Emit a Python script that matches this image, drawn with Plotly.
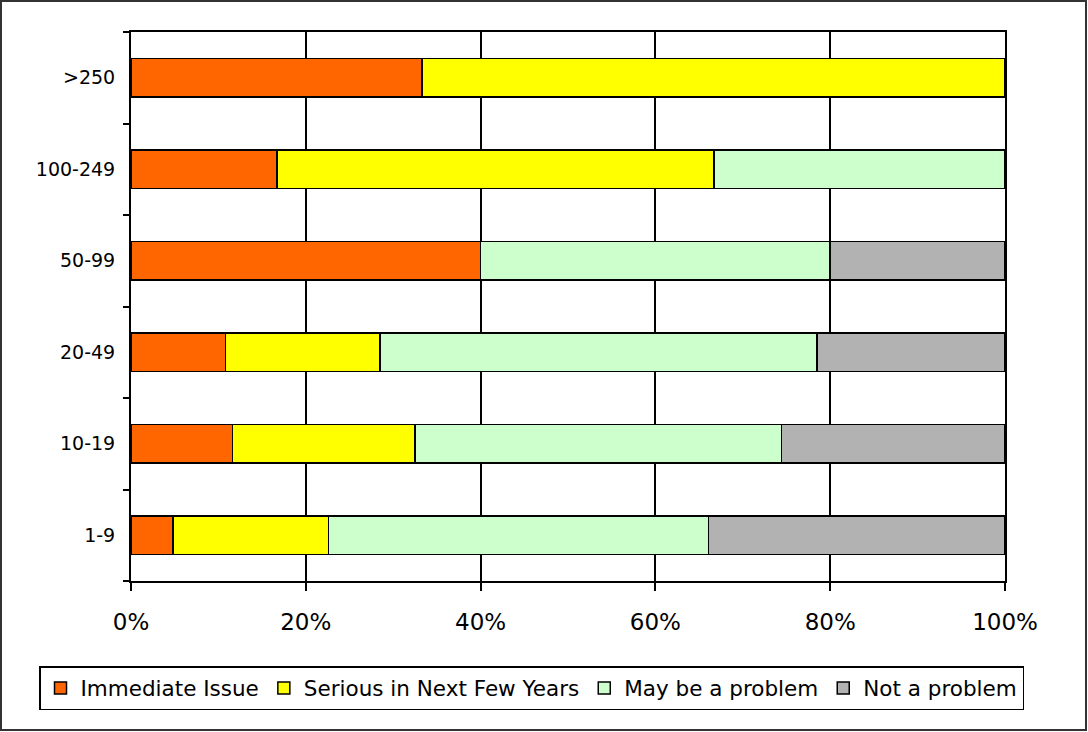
import plotly.graph_objects as go

# Firm size bands, bottom to top
sizes = ["1-9", "10-19", "20-49", "50-99", "100-249", ">250"]

# Share of respondents (%) per size band
immediate = [4.8, 11.6, 10.8, 40.0, 16.7, 33.3]
serious = [17.8, 20.9, 17.7, 0.0, 50.0, 66.7]
maybe = [43.5, 41.9, 50.0, 40.0, 33.3, 0.0]
not_problem = [33.9, 25.6, 21.5, 20.0, 0.0, 0.0]

series = [
    ("Immediate Issue", immediate, "#FF6600"),
    ("Serious in Next Few Years", serious, "#FFFF00"),
    ("May be a problem", maybe, "#CCFFCC"),
    ("Not a problem", not_problem, "#B2B2B2"),
]

fig = go.Figure()
for name, vals, color in series:
    fig.add_trace(go.Bar(
        y=sizes, x=vals, name=name, orientation="h",
        marker=dict(color=color, line=dict(color="black", width=1.5)),
        width=0.42,
    ))

W, H = 1088, 732
L, R, T, B = 131, 83, 32, 151
pw, ph = W - L - R, H - T - B

def px_x(p):
    return (p - L) / pw

def px_y(p):
    return (H - B - p) / ph

fig.update_layout(
    width=W, height=H,
    margin=dict(l=L, r=R, t=T, b=B, autoexpand=False),
    barmode="stack",
    paper_bgcolor="white", plot_bgcolor="white",
    font=dict(family="DejaVu Sans", color="black"),
    showlegend=True,
    legend=dict(
        orientation="h",
        x=px_x(39), xanchor="left",
        y=px_y(666), yanchor="top",
        bordercolor="black", borderwidth=1.5,
        font=dict(size=21.5), itemwidth=30,
        traceorder="normal",
    ),
    xaxis=dict(
        range=[0, 100], dtick=20, ticksuffix="%",
        showgrid=True, gridcolor="black", gridwidth=1.5,
        showline=True, linecolor="black", linewidth=2, mirror=True,
        ticks="outside", ticklen=8, tickwidth=2, tickcolor="black",
        tickfont=dict(size=23), ticklabelstandoff=11,
        zeroline=False, fixedrange=True,
    ),
    yaxis=dict(
        categoryorder="array", categoryarray=sizes,
        showgrid=False,
        showline=True, linecolor="black", linewidth=2, mirror=True,
        ticks="outside", ticklen=6, tickwidth=2, tickcolor="black",
        tickson="boundaries",
        tickfont=dict(size=19), ticklabelstandoff=10,
        fixedrange=True,
    ),
    shapes=[dict(
        type="rect", xref="paper", yref="paper",
        x0=px_x(1), x1=px_x(1086), y0=px_y(730), y1=px_y(1),
        line=dict(color="#333333", width=2), layer="below",
    )],
)

fig.write_html("out.html")
